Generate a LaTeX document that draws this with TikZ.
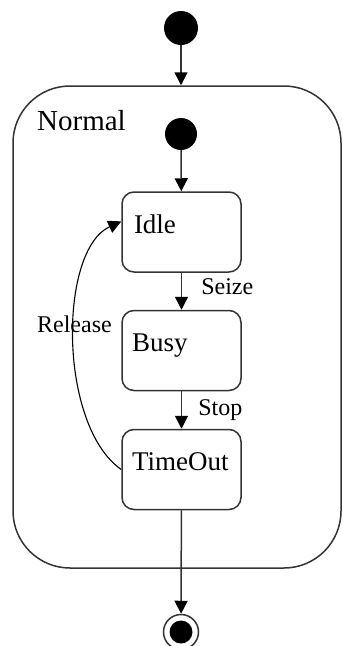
\documentclass[tikz,border=0pt]{standalone}
\usepackage{fontspec}
\setmainfont{Liberation Serif}
\usetikzlibrary{positioning,arrows.meta}

\begin{document}
\begin{tikzpicture}[
  x = 1pt, y = -1pt,
  every node/.style = {font = \fontsize{24}{28}\selectfont},
  zustand/.style = {
    rectangle, draw = black!80, line width = 1.5pt,
    rounded corners = 12pt,
    minimum width = 119pt, minimum height = 80pt,
    text width = 99pt, align = left, inner xsep = 10pt,
    text height = 17pt, text depth = 15pt,
    font = \fontsize{27}{30}\selectfont
  },
  start/.style = {circle, fill = black, inner sep = 0pt},
  pfeil/.style = {
    draw = black!80, line width = 1.5pt,
    -{Triangle[length=13pt, width=13pt, color=black]}
  },
  beschriftung/.style = {inner sep = 1pt}
]
  \useasboundingbox (0,0) rectangle (343,646);

  % Oberzustand
  \node[draw = black!80, line width = 1.5pt, rounded corners = 57pt,
        minimum width = 328pt, minimum height = 482pt] (normal) at (177,327) {};
  \node[anchor = base west, inner sep = 0pt,
        font = \fontsize{29}{32}\selectfont] (titel) at (37,130) {Normal};

  % Knoten
  \node[start, minimum size = 34pt] (init)  at (181,28)  {};
  \node[start, minimum size = 32pt] (start) at (181,134) {};
  \node[zustand] (idle)    at (181.5,232)   {\hspace{2pt}Idle};
  \node[zustand] (busy)    at (181.5,350.5) {Busy};
  \node[zustand] (timeout) at (181.5,469.5) {TimeOut};
  \node[circle, draw = black!80, line width = 1.5pt, fill = white,
        minimum size = 35pt, inner sep = 0pt] (ende) at (181,632) {};
  \node[start, minimum size = 23pt] (endpunkt) at (ende) {};

  % Kanten
  \draw[pfeil] (init) -- (init |- normal.north);
  \draw[pfeil] (start) -- (idle);
  \draw[pfeil] (idle) -- node[beschriftung, right = 18pt, pos = .37] {Seize} (busy);
  \draw[pfeil] (busy) -- node[beschriftung, right = 15pt] {Stop} (timeout);
  \draw[pfeil, draw = black, line width = 1.1pt]
    (timeout.west) .. controls +(-63,-44) and +(-63,29) ..
    node[beschriftung, pos = .55] {Release} (idle.170);
  \draw[pfeil] (timeout) -- (ende);
\end{tikzpicture}
\end{document}
